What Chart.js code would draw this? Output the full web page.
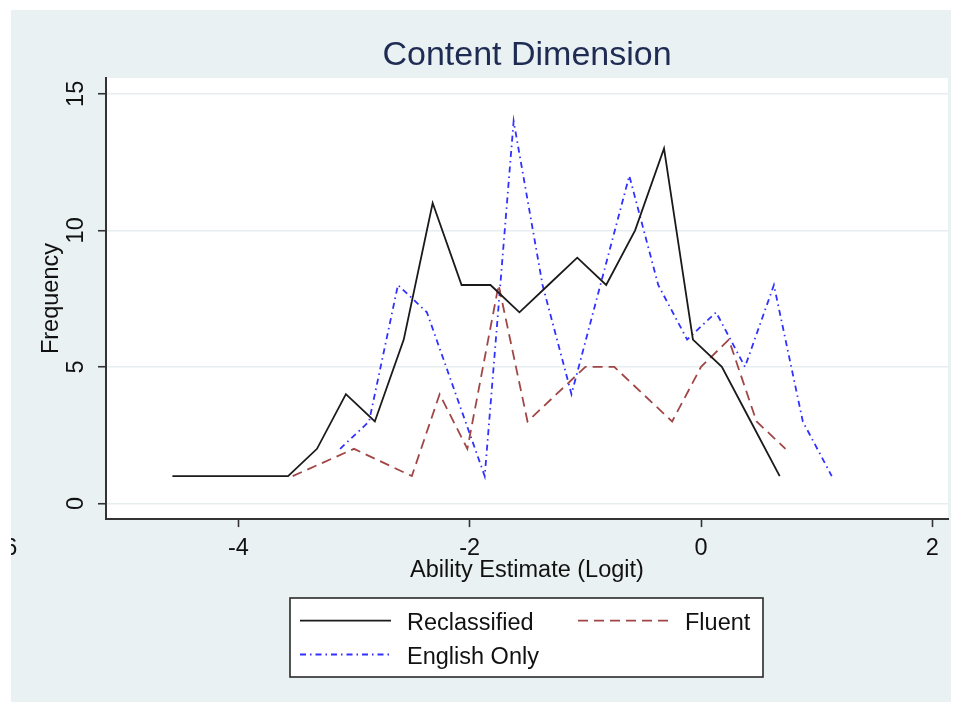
<!DOCTYPE html>
<html>
<head>
<meta charset="utf-8">
<title>Content Dimension</title>
<script src="https://cdn.jsdelivr.net/npm/chart.js@4/dist/chart.umd.min.js"></script>
<style>
  html, body { margin: 0; padding: 0; background: #ffffff; }
  canvas { display: block; }
</style>
</head>
<body>
<canvas id="chart" width="961" height="702"></canvas>
<script>
// Frequency of ability estimates (logits) by language group
const reclassX = [-4.57, -3.57, -3.32, -3.07, -2.82, -2.57, -2.32, -2.07, -1.82, -1.57, -1.32, -1.07, -0.82, -0.57, -0.32, -0.07, 0.18, 0.43, 0.68];
const reclassY = [1, 1, 2, 4, 3, 6, 11, 8, 8, 7, 8, 9, 8, 10, 13, 6, 5, 3, 1];

const fluentX = [-3.53, -3.0, -2.5, -2.26, -2.02, -1.75, -1.5, -1.25, -1.0, -0.75, -0.5, -0.25, 0.0, 0.24, 0.48, 0.73];
const fluentY = [1, 2, 1, 4, 2, 8, 3, 4, 5, 5, 4, 3, 5, 6, 3, 2];

const englishX = [-3.12, -2.87, -2.62, -2.37, -2.12, -1.87, -1.62, -1.37, -1.12, -0.87, -0.62, -0.37, -0.12, 0.13, 0.38, 0.63, 0.88, 1.13];
const englishY = [2, 3, 8, 7, 4, 1, 14, 8, 4, 8, 12, 8, 6, 7, 5, 8, 3, 1];

const seriesLabels = ['Reclassified', 'Fluent', 'English Only'];
const xTicks = [-4, -2, 0, 2];
const yTicks = [0, 5, 10, 15];
const xEdgeTick = -6;   // tick label sitting on the left edge of the graph region

const FONT = '"Liberation Sans", Arial, Helvetica, sans-serif';
const BG = '#eaf1f3';
const GRID = '#e6eef0';
const INK = '#111111';

function points(xs, ys) {
  return xs.map((x, i) => ({ x: x, y: ys[i] }));
}

// Graph region, plot region and the partially visible edge tick label
const backdrop = {
  id: 'backdrop',
  beforeDraw(chart) {
    const { ctx, chartArea: a } = chart;
    ctx.save();
    ctx.fillStyle = '#ffffff';
    ctx.fillRect(0, 0, chart.width, chart.height);
    ctx.fillStyle = BG;
    ctx.fillRect(11, 10, 940, 692);
    ctx.fillStyle = '#ffffff';
    ctx.fillRect(a.left, a.top, a.right - a.left, a.bottom - a.top);
    ctx.restore();
  },
  afterDraw(chart) {
    const { ctx } = chart;
    const xs = chart.scales.x;
    ctx.save();
    ctx.beginPath();
    ctx.rect(11, 10, 940, 692);
    ctx.clip();
    ctx.font = '23.5px ' + FONT;
    ctx.fillStyle = INK;
    ctx.textAlign = 'center';
    ctx.textBaseline = 'middle';
    ctx.fillText(String(xEdgeTick), xs.getPixelForValue(xEdgeTick), 548.7);
    ctx.restore();
  }
};

// Boxed two-column legend below the axis title
const boxLegend = {
  id: 'boxLegend',
  afterDraw(chart) {
    const { ctx } = chart;
    const ds = chart.data.datasets;
    const slots = [
      { sx: 300, ex: 391, tx: 407, ly: 620.7, by: 630 },
      { sx: 578, ex: 669, tx: 685, ly: 620.7, by: 630 },
      { sx: 300, ex: 391, tx: 407, ly: 654.5, by: 664 }
    ];
    ctx.save();
    ctx.fillStyle = '#ffffff';
    ctx.fillRect(290, 598, 473, 79);
    ctx.strokeStyle = '#2a2a2a';
    ctx.lineWidth = 1.6;
    ctx.strokeRect(290, 598, 473, 79);
    ds.forEach((d, i) => {
      const s = slots[i];
      ctx.beginPath();
      ctx.setLineDash(d.borderDash || []);
      ctx.strokeStyle = d.borderColor;
      ctx.lineWidth = d.borderWidth;
      ctx.moveTo(s.sx, s.ly);
      ctx.lineTo(s.ex, s.ly);
      ctx.stroke();
      ctx.setLineDash([]);
      ctx.font = '23.5px ' + FONT;
      ctx.fillStyle = INK;
      ctx.textAlign = 'left';
      ctx.textBaseline = 'alphabetic';
      ctx.fillText(d.label, s.tx, s.by);
    });
    ctx.restore();
  }
};

new Chart(document.getElementById('chart'), {
  type: 'line',
  data: {
    datasets: [
      {
        label: seriesLabels[0],
        data: points(reclassX, reclassY),
        borderColor: '#1a1a1a',
        borderWidth: 1.8,
        borderDash: [],
        pointRadius: 0,
        tension: 0,
        fill: false
      },
      {
        label: seriesLabels[1],
        data: points(fluentX, fluentY),
        borderColor: '#a04646',
        borderWidth: 1.8,
        borderDash: [10, 6],
        pointRadius: 0,
        tension: 0,
        fill: false
      },
      {
        label: seriesLabels[2],
        data: points(englishX, englishY),
        borderColor: '#3030ff',
        borderWidth: 1.8,
        borderDash: [6, 4, 1.5, 4],
        pointRadius: 0,
        tension: 0,
        fill: false
      }
    ]
  },
  options: {
    responsive: false,
    animation: false,
    devicePixelRatio: 1,
    layout: { padding: { left: 11, top: 10, right: 13, bottom: 116.9 } },
    plugins: {
      legend: { display: false },
      tooltip: { enabled: false },
      title: {
        display: true,
        text: 'Content Dimension',
        fullSize: false,
        color: '#1e2b52',
        font: { family: FONT, size: 34, weight: 'normal' },
        padding: { top: 25.5, bottom: 1.7 }
      }
    },
    scales: {
      x: {
        type: 'linear',
        min: -5.144,
        max: 2.135,
        afterBuildTicks(scale) { scale.ticks = xTicks.map(v => ({ value: v })); },
        afterFit(scale) { scale.height = 66; },
        grid: { drawOnChartArea: false, drawTicks: true, tickLength: 8, tickColor: '#333333', tickWidth: 1.6 },
        border: { display: true, color: '#333333', width: 2 },
        ticks: { color: INK, padding: 7, maxRotation: 0, font: { family: FONT, size: 23.5 } },
        title: {
          display: true,
          text: 'Ability Estimate (Logit)',
          color: INK,
          font: { family: FONT, size: 23.5 },
          padding: { top: 0, bottom: 0 }
        }
      },
      y: {
        type: 'linear',
        min: -0.574,
        max: 15.58,
        afterBuildTicks(scale) { scale.ticks = yTicks.map(v => ({ value: v })); },
        afterFit(scale) { scale.width = 95; },
        grid: { color: GRID, lineWidth: 1.5, drawTicks: true, tickLength: 8, tickColor: '#333333', tickWidth: 1.6 },
        border: { display: true, color: '#333333', width: 2 },
        ticks: {
          color: INK,
          padding: 8,
          minRotation: 90,
          maxRotation: 90,
          crossAlign: 'center',
          font: { family: FONT, size: 23.5 }
        },
        title: {
          display: true,
          text: 'Frequency',
          color: INK,
          font: { family: FONT, size: 23.5 },
          padding: { top: 26.5, bottom: 0 }
        }
      }
    }
  },
  plugins: [backdrop, boxLegend]
});
</script>
</body>
</html>
